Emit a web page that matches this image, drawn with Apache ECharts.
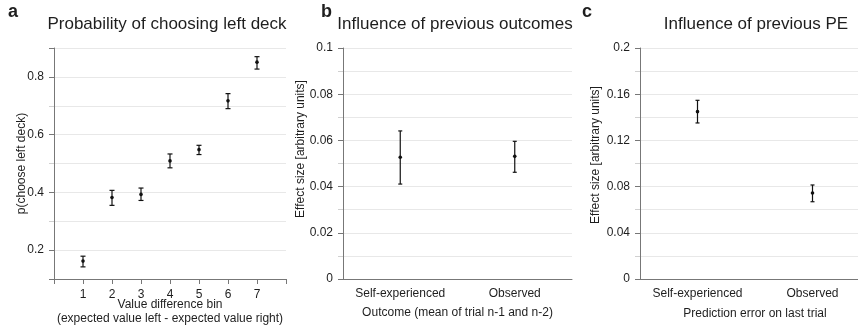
<!DOCTYPE html>
<html><head><meta charset="utf-8">
<script src="https://cdn.jsdelivr.net/npm/echarts@6/dist/echarts.min.js"></script>
<style>html,body{margin:0;padding:0;background:#fff}#c{width:858px;height:329px}</style>
</head><body><div id="c"></div>
<script>
// Panel a: probability of choosing left deck
const binX = [1, 2, 3, 4, 5, 6, 7];
const binLabels = ['1', '2', '3', '4', '5', '6', '7'];
const pMean = [0.162, 0.382, 0.393, 0.509, 0.548, 0.717, 0.851];
const pLow  = [0.142, 0.355, 0.372, 0.485, 0.531, 0.690, 0.827];
const pHigh = [0.179, 0.407, 0.415, 0.533, 0.563, 0.742, 0.870];
const yTicksA = ['0.2', '0.4', '0.6', '0.8'];

// Panel b: influence of previous outcomes
const groups = ['Self-experienced', 'Observed'];
const outMean = [0.0527, 0.0531];
const outLow  = [0.0411, 0.0462];
const outHigh = [0.0641, 0.0596];

// Panel c: influence of previous PE
const peMean = [0.1449, 0.0745];
const peLow  = [0.1351, 0.0669];
const peHigh = [0.1547, 0.0814];

const FONT = '"Liberation Sans", Arial, Helvetica, sans-serif';
const TXT = '#1e1e1e';
const AX = '#777';
const GRID = '#e8e8e8';

function errBar(capHalf) {
  return function (params, api) {
    const x = api.value(0), lo = api.value(1), hi = api.value(2), m = api.value(3);
    const a = api.coord([x, lo]), b = api.coord([x, hi]), c = api.coord([x, m]);
    const st = { stroke: '#111', lineWidth: 1.2 };
    return { type: 'group', children: [
      { type: 'line', shape: { x1: a[0], y1: a[1], x2: b[0], y2: b[1] }, style: st },
      { type: 'line', shape: { x1: a[0] - capHalf, y1: a[1], x2: a[0] + capHalf, y2: a[1] }, style: st },
      { type: 'line', shape: { x1: b[0] - capHalf, y1: b[1], x2: b[0] + capHalf, y2: b[1] }, style: st },
      { type: 'circle', shape: { cx: c[0], cy: c[1], r: 1.8 }, style: { fill: '#111' } }
    ]};
  };
}

const dataA = binX.map((x, i) => [x, pLow[i], pHigh[i], pMean[i]]);
const dataB = groups.map((g, i) => [i, outLow[i], outHigh[i], outMean[i]]);
const dataC = groups.map((g, i) => [i, peLow[i], peHigh[i], peMean[i]]);

const lbl = { fontFamily: FONT, fontSize: 12, color: TXT };
const nameStyle = (extra) => Object.assign({ fontFamily: FONT, fontSize: 12, color: TXT, lineHeight: 14 }, extra || {});

function text(x, y, s, size, weight, align) {
  return { type: 'text', x: x, y: y, style: {
    text: s, fontFamily: FONT, fontSize: size, fontWeight: weight || 'normal', fill: TXT,
    textAlign: align || 'center', align: align || 'center', textVerticalAlign: 'middle', verticalAlign: 'middle' } };
}

const option = {
  backgroundColor: '#fff',
  animation: false,
  graphic: [
    text(8, 12, 'a', 18, 'bold', 'left'),
    text(321, 12, 'b', 18, 'bold', 'left'),
    text(582, 12, 'c', 18, 'bold', 'left'),
    text(167, 24, 'Probability of choosing left deck', 17),
    text(455, 24, 'Influence of previous outcomes', 17),
    text(756, 24, 'Influence of previous PE', 17)
  ],
  grid: [
    { left: 54, top: 48, width: 232, height: 231, containLabel: false, outerBoundsMode: 'none' },
    { left: 343, top: 48, width: 229, height: 231, containLabel: false, outerBoundsMode: 'none' },
    { left: 640, top: 48, width: 230, height: 231, containLabel: false, outerBoundsMode: 'none' }
  ],
  xAxis: [
    { gridIndex: 0, type: 'value', min: 0, max: 8, interval: 1,
      axisLine: { lineStyle: { color: AX } },
      axisTick: { length: 5, lineStyle: { color: AX } },
      axisLabel: Object.assign({ margin: 10, formatter: v => { const i = binX.indexOf(v); return i >= 0 ? binLabels[i] : ''; } }, lbl),
      splitLine: { show: false },
      name: 'Value difference bin\n(expected value left - expected value right)',
      nameLocation: 'middle', nameGap: 19, nameMoveOverlap: false, nameTextStyle: nameStyle() },
    { gridIndex: 1, type: 'category', data: groups, boundaryGap: true,
      axisLine: { lineStyle: { color: AX } },
      axisTick: { alignWithLabel: true, length: 5, lineStyle: { color: AX } },
      axisLabel: Object.assign({ margin: 9, interval: 0, hideOverlap: false }, lbl),
      name: 'Outcome (mean of trial n-1 and n-2)',
      nameLocation: 'middle', nameGap: 27, nameMoveOverlap: false, nameTextStyle: nameStyle() },
    { gridIndex: 2, type: 'category', data: groups, boundaryGap: true,
      axisLine: { lineStyle: { color: AX } },
      axisTick: { alignWithLabel: true, length: 5, lineStyle: { color: AX } },
      axisLabel: Object.assign({ margin: 9, interval: 0, hideOverlap: false }, lbl),
      name: 'Prediction error on last trial',
      nameLocation: 'middle', nameGap: 28, nameMoveOverlap: false, nameTextStyle: nameStyle() }
  ],
  yAxis: [
    { gridIndex: 0, type: 'value', position: 'left', min: 0.1, max: 0.9, interval: 0.1,
      axisLine: { show: false },
      axisTick: { show: true, length: 5, lineStyle: { color: '#d0d0d0' } },
      axisLabel: Object.assign({ margin: 10, formatter: v => { const s = (Math.round(v * 10) / 10).toFixed(1); return yTicksA.indexOf(s) >= 0 ? s : ''; } }, lbl),
      splitLine: { lineStyle: { color: GRID } },
      name: 'p(choose left deck)', nameLocation: 'middle', nameGap: 25, nameMoveOverlap: false, nameTextStyle: nameStyle() },
    { gridIndex: 0, type: 'value', position: 'left', offset: 0, min: 0.1, max: 0.9, splitNumber: 4,
      axisLine: { show: true, lineStyle: { color: AX } },
      axisTick: { show: true, length: 5, lineStyle: { color: AX } },
      axisLabel: { show: false }, splitLine: { show: false } },
    { gridIndex: 1, type: 'value', min: 0, max: 0.1, interval: 0.02,
      axisLine: { show: true, lineStyle: { color: AX } },
      axisTick: { show: true, length: 5, lineStyle: { color: AX } },
      minorTick: { show: true, splitNumber: 2, length: 5, lineStyle: { color: '#d0d0d0' } },
      axisLabel: Object.assign({ margin: 10 }, lbl),
      splitLine: { lineStyle: { color: GRID } },
      minorSplitLine: { show: true, lineStyle: { color: GRID } },
      name: 'Effect size [arbitrary units]', nameLocation: 'middle', nameGap: 35, nameMoveOverlap: false,
      nameTextStyle: nameStyle({ padding: [0, 0, 0, 29] }) },
    { gridIndex: 2, type: 'value', min: 0, max: 0.2, interval: 0.04,
      axisLine: { show: true, lineStyle: { color: AX } },
      axisTick: { show: true, length: 5, lineStyle: { color: AX } },
      minorTick: { show: true, splitNumber: 2, length: 5, lineStyle: { color: '#d0d0d0' } },
      axisLabel: Object.assign({ margin: 10 }, lbl),
      splitLine: { lineStyle: { color: GRID } },
      minorSplitLine: { show: true, lineStyle: { color: GRID } },
      name: 'Effect size [arbitrary units]', nameLocation: 'middle', nameGap: 37, nameMoveOverlap: false,
      nameTextStyle: nameStyle({ padding: [0, 0, 0, 17] }) }
  ],
  series: [
    { type: 'custom', xAxisIndex: 0, yAxisIndex: 0, renderItem: errBar(2.5), data: dataA, encode: { x: 0, y: [1, 2, 3] }, z: 10 },
    { type: 'custom', xAxisIndex: 1, yAxisIndex: 2, renderItem: errBar(2), data: dataB, encode: { x: 0, y: [1, 2, 3] }, z: 10 },
    { type: 'custom', xAxisIndex: 2, yAxisIndex: 3, renderItem: errBar(2), data: dataC, encode: { x: 0, y: [1, 2, 3] }, z: 10 }
  ]
};

const chart = echarts.init(document.getElementById('c'), null, { renderer: 'canvas' });
chart.setOption(option);
</script>
</body></html>
